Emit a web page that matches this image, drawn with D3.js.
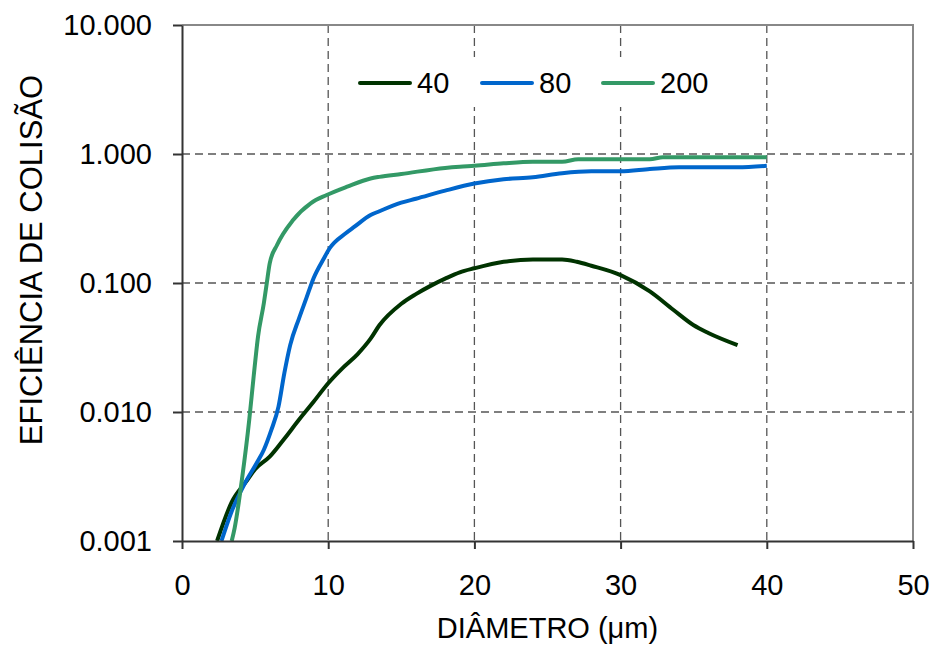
<!doctype html>
<html lang="pt">
<head>
    <meta charset="utf-8">
    <title>Eficiência de colisão</title>
    <script src="https://cdnjs.cloudflare.com/ajax/libs/d3/7.8.5/d3.min.js"></script>
    <style>
        body { margin: 0; background: #fff; }
        svg text { font-family: "Liberation Sans", Arial, sans-serif; fill: #000; }
        .axis path, .axis line { stroke: #333; stroke-width: 2; }
        .grid line { stroke: #555; stroke-width: 1.3; stroke-dasharray: 8,5; }
    </style>
</head>
<body>
    <div id="chart"></div>
    <script>
        // dados
        var series = ['40', '80', '200'];
        var colors = ['#003300', '#0066cc', '#339966'];

        var dia40 = [2.4, 3.4, 4.4, 5.0, 6.0, 7.0, 8.0, 9.0, 10.0, 11.0, 12.0, 12.9, 13.5, 15.0, 16.0, 17.0, 18.0, 19.0, 20.0, 22.0, 24.0, 26.0, 27.0, 28.0, 30.0, 32.0, 33.6, 35.0, 36.0, 38.0];
        var eff40 = [0.001, 0.002, 0.0029, 0.0036, 0.0045, 0.0062, 0.0087, 0.012, 0.0167, 0.022, 0.028, 0.037, 0.047, 0.069, 0.082, 0.095, 0.108, 0.121, 0.13, 0.146, 0.152, 0.152, 0.146, 0.136, 0.115, 0.086, 0.062, 0.047, 0.041, 0.033];

        var dia80 = [2.7, 3.4, 4.3, 5.1, 5.6, 6.1, 6.6, 7.0, 7.4, 8.0, 8.5, 9.0, 9.7, 10.1, 11.2, 11.8, 12.9, 13.5, 15, 16, 18, 20, 22, 24, 26, 28, 30, 32, 34, 38, 40];
        var eff80 = [0.001, 0.0017, 0.0028, 0.004, 0.0051, 0.0072, 0.011, 0.02, 0.033, 0.053, 0.076, 0.109, 0.155, 0.186, 0.243, 0.273, 0.336, 0.36, 0.42, 0.45, 0.52, 0.59, 0.637, 0.66, 0.71, 0.734, 0.734, 0.765, 0.789, 0.789, 0.81];

        var dia200 = [3.4, 3.6, 4.1, 4.6, 4.9, 5.2, 5.6, 5.8, 6.0, 6.5, 7.6, 8.8, 9.9, 11.3, 12.9, 13.5, 15, 18, 19, 20, 22, 24, 26, 27.1, 30, 32, 32.9, 40];
        var eff200 = [0.001, 0.00126, 0.003, 0.0087, 0.0188, 0.0384, 0.07, 0.1, 0.142, 0.197, 0.308, 0.415, 0.481, 0.558, 0.646, 0.665, 0.7, 0.78, 0.797, 0.81, 0.847, 0.871, 0.871, 0.91, 0.91, 0.91, 0.943, 0.943];

        var xTicks = [0, 10, 20, 30, 40, 50];
        var yTicks = [0.001, 0.01, 0.1, 1, 10];

        var width = 932, height = 655;
        var plotLeft = 182, plotRight = 913, plotTop = 25, plotBottom = 541;

        var svg = d3.select('#chart')
            .append('svg')
            .attr('width', width)
            .attr('height', height);

        var x = d3.scaleLinear().domain([0, 50]).range([plotLeft, plotRight]);
        var y = d3.scaleLog().domain([0.001, 10]).range([plotBottom, plotTop]);

        // grade tracejada
        var grid = svg.append('g').attr('class', 'grid');
        grid.selectAll('line.v')
            .data(xTicks.slice(1, -1))
            .enter().append('line')
            .attr('class', 'v')
            .attr('x1', function(d) { return x(d); })
            .attr('x2', function(d) { return x(d); })
            .attr('y1', plotTop)
            .attr('y2', plotBottom);
        grid.selectAll('line.h')
            .data(yTicks.slice(1, -1))
            .enter().append('line')
            .attr('class', 'h')
            .attr('x1', plotLeft)
            .attr('x2', plotRight)
            .attr('y1', function(d) { return y(d); })
            .attr('y2', function(d) { return y(d); });

        // borda superior e direita
        svg.append('path')
            .attr('d', 'M' + plotLeft + ',' + plotTop + 'H' + plotRight + 'V' + plotBottom)
            .attr('fill', 'none')
            .attr('stroke', '#888')
            .attr('stroke-width', 2);

        // legenda (fundo branco por cima da grade)
        var legend = svg.append('g');
        legend.append('rect')
            .attr('x', 352).attr('y', 57)
            .attr('width', 364).attr('height', 50)
            .attr('fill', '#fff');
        var legX = [360, 482, 603];
        series.forEach(function(s, i) {
            legend.append('line')
                .attr('x1', legX[i]).attr('x2', legX[i] + 50)
                .attr('y1', 83).attr('y2', 83)
                .attr('stroke', colors[i])
                .attr('stroke-width', 4)
                .attr('stroke-linecap', 'round');
            legend.append('text')
                .attr('x', legX[i] + 57)
                .attr('y', 83)
                .attr('dy', '0.35em')
                .style('font-size', '29px')
                .text(s);
        });

        // curvas
        var data = [
            d3.zip(dia40, eff40),
            d3.zip(dia80, eff80),
            d3.zip(dia200, eff200)
        ];
        var line = d3.line()
            .x(function(d) { return x(d[0]); })
            .y(function(d) { return y(d[1]); })
            .curve(d3.curveMonotoneX);

        svg.selectAll('path.serie')
            .data(data)
            .enter().append('path')
            .attr('class', 'serie')
            .attr('d', line)
            .attr('fill', 'none')
            .attr('stroke', function(d, i) { return colors[i]; })
            .attr('stroke-width', 4)
            .attr('stroke-linejoin', 'round');

        // eixos
        var xAxis = svg.append('g')
            .attr('class', 'axis')
            .attr('transform', 'translate(0,' + plotBottom + ')')
            .call(d3.axisBottom(x).tickValues(xTicks).tickSize(8).tickPadding(25).tickSizeOuter(0));
        xAxis.selectAll('text').style('font-size', '29px');

        var yAxis = svg.append('g')
            .attr('class', 'axis')
            .attr('transform', 'translate(' + plotLeft + ',0)')
            .call(d3.axisLeft(y).tickValues(yTicks).tickFormat(d3.format('.3f')).tickSize(9).tickPadding(21).tickSizeOuter(0));
        yAxis.selectAll('text').style('font-size', '29px');

        // títulos dos eixos
        svg.append('text')
            .attr('x', (plotLeft + plotRight) / 2)
            .attr('y', 638)
            .attr('text-anchor', 'middle')
            .style('font-size', '29px')
            .text('DIÂMETRO (μm)');

        svg.append('text')
            .attr('transform', 'translate(42,260) rotate(-90)')
            .attr('text-anchor', 'middle')
            .style('font-size', '31px')
            .text('EFICIÊNCIA DE COLISÃO');
    </script>
</body>
</html>
